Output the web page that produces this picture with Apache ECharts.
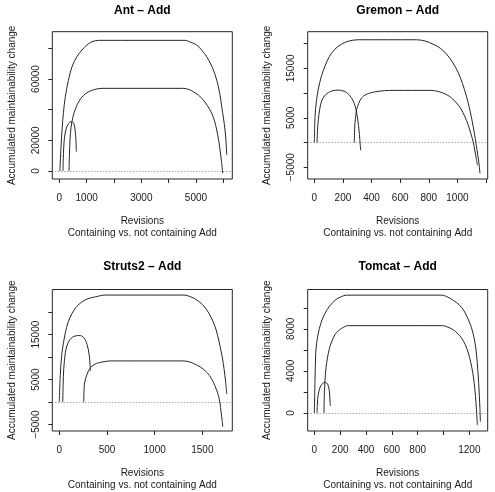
<!DOCTYPE html>
<html>
<head>
<meta charset="utf-8">
<script src="https://cdn.jsdelivr.net/npm/echarts@6/dist/echarts.min.js"></script>
<style>
html,body{margin:0;padding:0;background:#fff;}
#c{width:495px;height:492px;}
</style>
</head>
<body>
<div id="c"></div>
<script>
// ---------- data (revision, accumulated maintainability change) ----------
const antAll = [[20,0],[60,15000],[99,26700],[150,38000],[220,48400],[330,59000],[465,68000],[640,74500],[830,78900],[1000,82000],[1195,84300],[1440,85200],[4600,85200],[4800,84000],[5027,82150],[5200,79000],[5393,74500],[5600,67500],[5759,59300],[5870,50500],[5942,41900],[6010,34000],[6063,26700],[6100,19000],[6125,10400]];
const antNot = [[355,0],[370,10000],[390,20200],[430,28500],[500,35400],[600,41000],[710,45200],[880,49200],[1075,51700],[1300,53200],[1560,53900],[4540,53900],[4750,53100],[4903,51700],[5100,49300],[5269,46300],[5430,42300],[5576,37600],[5680,32500],[5759,26700],[5830,20000],[5880,13700],[5935,6000],[5979,-1500]];
const antArc = [[135,0],[145,8000],[160,15000],[190,22000],[250,27500],[340,31000],[450,32200],[530,31000],[575,27000],[605,21000],[622,12600]];

const gremonAll = [[0,0],[5,5300],[15,8500],[28,10800],[50,13500],[75,15500],[105,17400],[144,18900],[190,19900],[237,20500],[307,20800],[714,20800],[780,20500],[830,19900],[880,19100],[924,17900],[965,16300],[1005,14200],[1035,12000],[1063,9400],[1088,6500],[1110,3300],[1125,800],[1137,-1500],[1150,-4000],[1158,-6250]];
const gremonArc = [[19,0],[22,2500],[28,4600],[38,6800],[51,8400],[70,9400],[98,10100],[130,10500],[167,10600],[200,10450],[226,10100],[250,9400],[272,8400],[286,7300],[296,6000],[305,4300],[312,2600],[318,600],[324,-1600]];
const gremonNot = [[279,0],[284,3900],[290,5500],[296,6700],[310,7900],[330,9000],[360,9700],[400,10100],[445,10350],[493,10500],[560,10550],[810,10550],[870,10300],[924,9700],[960,9000],[994,8000],[1025,6800],[1051,5300],[1075,3600],[1093,1900],[1110,200],[1121,-1500],[1132,-3200],[1140,-4600]];

const strutsAll = [[0,0],[10,5900],[28,11000],[63,15400],[95,17900],[133,19700],[180,21200],[238,22300],[300,23000],[378,23400],[483,23800],[1300,23800],[1380,23400],[1441,22700],[1500,21700],[1546,20500],[1590,18900],[1633,16800],[1660,14800],[1686,12400],[1710,9800],[1728,7300],[1744,4500],[1756,1800]];
const strutsArc = [[36,0],[40,4000],[46,7300],[63,11000],[80,12500],[99,13500],[125,14200],[151,14600],[204,14800],[235,14700],[256,14300],[275,13700],[291,12800],[305,11600],[315,10200],[322,8500],[325,6900]];
const strutsNot = [[256,0],[262,3700],[275,5200],[291,6200],[315,7300],[343,8000],[390,8600],[448,8900],[530,9150],[1300,9150],[1370,8900],[1424,8400],[1480,7800],[1528,7000],[1575,5900],[1616,4400],[1645,2900],[1668,1500],[1685,-200],[1696,-2200],[1706,-3800],[1714,-5500]];

const tomcatAll = [[0,0],[5,3000],[11,5750],[20,6800],[31,7600],[50,8500],[70,9150],[100,9850],[135,10400],[170,10800],[199,11000],[251,11200],[986,11200],[1035,11000],[1076,10700],[1120,10300],[1154,9800],[1180,9200],[1205,8500],[1226,7700],[1244,6650],[1256,5500],[1265,4150],[1272,2900],[1277,1650],[1282,400],[1285,-850]];
const tomcatNot = [[75,0],[77,1650],[80,2500],[83,3200],[89,4100],[96,4800],[108,5650],[122,6350],[140,6950],[160,7450],[185,7800],[212,8050],[263,8300],[986,8300],[1035,8150],[1076,7900],[1110,7550],[1141,7100],[1168,6500],[1192,5700],[1210,4850],[1226,3850],[1238,2800],[1247,1650],[1255,300],[1262,-1150]];
const tomcatArc = [[21,0],[23,700],[26,1300],[30,1750],[36,2100],[45,2450],[57,2700],[70,2850],[83,2900],[95,2850],[104,2700],[111,2450],[116,2100],[120,1500],[122,1000],[124,650]];

// ---------- ticks & labels ----------
const antXTicks = [0,1000,2000,3000,4000,5000,6000];
const antXLabels = [0,1000,3000,5000];
const antYTicks = [0,20000,40000,60000,80000];
const antYLabels = [0,20000,60000];
const gremonXTicks = [0,200,400,600,800,1000,1200];
const gremonXLabels = [0,200,400,600,800,1000];
const gremonYTicks = [-5000,0,5000,10000,15000,20000];
const gremonYLabels = [-5000,5000,15000];
const strutsXTicks = [0,500,1000,1500];
const strutsXLabels = [0,500,1000,1500];
const strutsYTicks = [-5000,0,5000,10000,15000,20000];
const strutsYLabels = [-5000,5000,15000];
const tomcatXTicks = [0,200,400,600,800,1000,1200];
const tomcatXLabels = [0,200,400,600,800,1200];
const tomcatYTicks = [0,2000,4000,6000,8000,10000];
const tomcatYLabels = [0,4000,8000];

const titles = ['Ant \u2013 Add','Gremon \u2013 Add','Struts2 \u2013 Add','Tomcat \u2013 Add'];
const xName = 'Revisions\nContaining vs. not containing Add';
const yName = 'Accumulated maintainability change';

// ---------- layout ----------
const FONT = 'Liberation Sans, Arial, Helvetica, sans-serif';
const panels = [
  {grid:{left:52.3, top:31.7, width:180, height:147.3}, titleY:10.7, x:[-257,6329], y:[-5217,90840],
   xt:antXTicks, xl:antXLabels, yt:antYTicks, yl:antYLabels, curves:[antAll,antNot,antArc]},
  {grid:{left:307.7, top:31.7, width:180, height:147.3}, titleY:10.7, x:[-46.4,1212], y:[-7389,22430],
   xt:gremonXTicks, xl:gremonXLabels, yt:gremonYTicks, yl:gremonYLabels, curves:[gremonAll,gremonArc,gremonNot]},
  {grid:{left:52.3, top:289.5, width:180, height:143.5}, titleY:266.3, x:[-73.7,1814], y:[-6432,25037],
   xt:strutsXTicks, xl:strutsXLabels, yt:strutsYTicks, yl:strutsYLabels, curves:[strutsAll,strutsArc,strutsNot]},
  {grid:{left:307.7, top:289.5, width:180, height:143.5}, titleY:266.3, x:[-51.3,1342], y:[-1719,11737],
   xt:tomcatXTicks, xl:tomcatXLabels, yt:tomcatYTicks, yl:tomcatYLabels, curves:[tomcatAll,tomcatNot,tomcatArc]}
];

const fmt = v => (v < 0 ? '\u2212' + Math.abs(v) : String(v));
const LINE = '#262626';

const option = {animation:false, backgroundColor:'#fff', grid:[], xAxis:[], yAxis:[], series:[], graphic:[]};

panels.forEach((p, i) => {
  option.grid.push(Object.assign({show:true, borderColor:LINE, borderWidth:1, backgroundColor:'transparent'}, p.grid));
  option.xAxis.push({
    type:'value', gridIndex:i, min:p.x[0], max:p.x[1], position:'bottom',
    axisLine:{show:false, onZero:false}, splitLine:{show:false},
    axisTick:{show:true, inside:false, customValues:p.xt, length:4, lineStyle:{color:LINE, width:1}},
    axisLabel:{customValues:p.xl, formatter:fmt, fontSize:10, color:'#1a1a1a', fontFamily:FONT, margin:14},
    name:xName, nameLocation:'middle', nameGap:36,
    nameTextStyle:{fontSize:10, lineHeight:12, color:'#1a1a1a', fontFamily:FONT}
  });
  option.yAxis.push({
    type:'value', gridIndex:i, min:p.y[0], max:p.y[1], position:'left',
    axisLine:{show:false, onZero:false}, splitLine:{show:false},
    axisTick:{show:true, inside:false, customValues:p.yt, length:4, lineStyle:{color:LINE, width:1}},
    axisLabel:{customValues:p.yl, formatter:fmt, rotate:90, fontSize:10, color:'#1a1a1a', fontFamily:FONT, margin:11},
    name:yName, nameLocation:'middle', nameGap:35,
    nameTextStyle:{fontSize:10, color:'#1a1a1a', fontFamily:FONT}
  });
  p.curves.forEach((c, k) => {
    const s = {
      type:'line', xAxisIndex:i, yAxisIndex:i, data:c, showSymbol:false, smooth:0.35,
      lineStyle:{color:LINE, width:1}, silent:true, z:3
    };
    if (k === 0) {
      s.markLine = {silent:true, symbol:['none','none'], label:{show:false},
        lineStyle:{type:[1,2], color:'#808080', width:1}, data:[{yAxis:0}], z:2};
    }
    option.series.push(s);
  });
  option.graphic.push({
    type:'text', x:p.grid.left + p.grid.width/2, y:p.titleY,
    style:{text:titles[i], fontSize:12, fontWeight:'bold', fontFamily:FONT, fill:'#000',
      textAlign:'center', textVerticalAlign:'middle'}
  });
});

const chart = echarts.init(document.getElementById('c'), null, {renderer:'canvas'});
chart.setOption(option);
</script>
</body>
</html>
